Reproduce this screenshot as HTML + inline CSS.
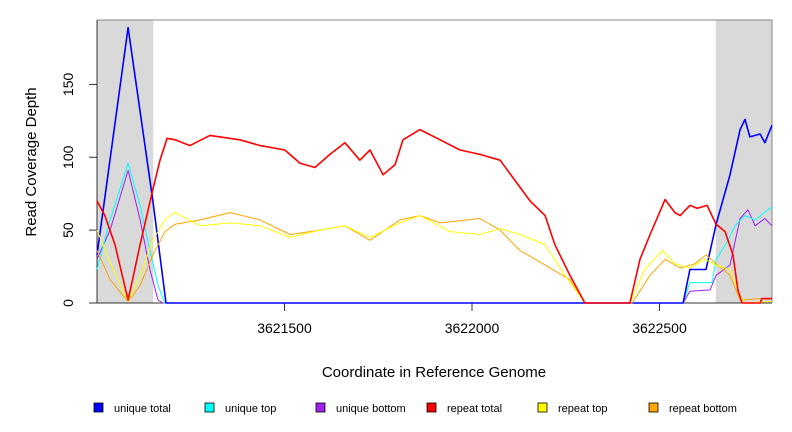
<!DOCTYPE html>
<html><head><meta charset="utf-8"><style>
body{margin:0;background:#fff;font-family:"Liberation Sans",sans-serif}
svg{display:block}
</style></head><body>
<svg id="chart" width="792" height="432" xmlns="http://www.w3.org/2000/svg" font-family="Liberation Sans, sans-serif"></svg>
<script>
// Data (genome coordinate, depth)
const xTicks=[3621500,3622000,3622500];
const yTicks=[0,50,100,150];
const shaded=[[3621000,3621150],[3622650,3622800]];
const uniqueTotalX=[3621000,3621083,3621149,3621184,3622563,3622581,3622624,3622651,3622688,3622715,3622728,3622741,3622768,3622781,3622800];
const uniqueTotalY=[33,189,70,0,0,23,23,54,88,119,126,114,116,110,122];
const uniqueTopX=[3621000,3621035,3621083,3621115,3621141,3621163,3621181,3622563,3622581,3622640,3622651,3622683,3622701,3622728,3622755,3622800];
const uniqueTopY=[23,57,96,67,36,12,0,0,14,14,30,43,53,60,57,66];
const uniqueBottomX=[3621000,3621035,3621083,3621115,3621141,3621163,3621176,3622563,3622581,3622635,3622651,3622688,3622715,3622736,3622755,3622781,3622800];
const uniqueBottomY=[30,50,91,57,23,2,0,0,8,9,19,26,58,64,53,58,53];
const repeatTotalX=[3621000,3621021,3621048,3621083,3621115,3621149,3621168,3621187,3621208,3621248,3621301,3621381,3621435,3621501,3621541,3621581,3621621,3621661,3621701,3621728,3621763,3621795,3621816,3621861,3621915,3621968,3622021,3622075,3622115,3622155,3622195,3622221,3622261,3622301,3622421,3622448,3622475,3622515,3622541,3622555,3622581,3622600,3622627,3622651,3622675,3622696,3622709,3622720,3622768,3622773,3622800];
const repeatTotalY=[70,60,40,2,40,78,98,113,112,108,115,112,108,105,96,93,102,110,98,105,88,95,112,119,112,105,102,98,84,70,60,40,19,0,0,30,47,71,62,60,67,65,67,54,49,33,9,0,0,3,3];
const repeatTopX=[3621000,3621035,3621083,3621115,3621149,3621181,3621208,3621275,3621355,3621435,3621515,3621595,3621661,3621728,3621808,3621861,3621941,3622021,3622075,3622128,3622195,3622248,3622301,3622421,3622461,3622507,3622541,3622581,3622621,3622651,3622688,3622715,3622728,3622800];
const repeatTopY=[50,28,1,19,43,57,62,53,55,53,45,50,53,45,55,60,49,47,51,47,40,19,0,0,23,36,27,24,30,26,23,5,0,1];
const repeatBottomX=[3621000,3621035,3621083,3621115,3621149,3621181,3621208,3621275,3621355,3621435,3621515,3621595,3621661,3621728,3621808,3621861,3621915,3622021,3622075,3622128,3622195,3622261,3622301,3622427,3622475,3622515,3622555,3622595,3622624,3622651,3622688,3622715,3622768,3622800];
const repeatBottomY=[36,16,1,12,33,49,54,57,62,57,47,50,53,43,57,60,55,58,50,36,26,16,0,0,19,30,24,27,33,27,19,2,3,3];
const series=[
 {name:'unique-total',label:'unique total',color:'#0000ff',w:1.6,x:uniqueTotalX,y:uniqueTotalY},
 {name:'unique-top',label:'unique top',color:'#00ffff',w:1,x:uniqueTopX,y:uniqueTopY},
 {name:'unique-bottom',label:'unique bottom',color:'#a020f0',w:1,x:uniqueBottomX,y:uniqueBottomY},
 {name:'repeat-total',label:'repeat total',color:'#ff0000',w:1.6,x:repeatTotalX,y:repeatTotalY},
 {name:'repeat-top',label:'repeat top',color:'#ffff00',w:1,x:repeatTopX,y:repeatTopY},
 {name:'repeat-bottom',label:'repeat bottom',color:'#ffa500',w:1,x:repeatBottomX,y:repeatBottomY}
];
const NS='http://www.w3.org/2000/svg';
const svg=document.getElementById('chart');
const L=97,R=772,T=20,B=303;
const X0=3621000,X1=3622800,Y0=0,Y1=194.2;
function sx(v){return L+(v-X0)/(X1-X0)*(R-L);}
function sy(v){return B-(v-Y0)/(Y1-Y0)*(B-T);}
function mk(tag,attrs,parent){const e=document.createElementNS(NS,tag);for(const k in attrs)e.setAttribute(k,attrs[k]);(parent||svg).appendChild(e);return e;}
shaded.forEach(s=>{
 const r=mk('rect',{x:sx(s[0]),y:T,width:sx(s[1])-sx(s[0]),height:B-T,fill:'#d9d9d9'});
 
 
});
const frame=mk('path',{d:`M${L} ${T}H${R}V${B}`,fill:'none',stroke:'#888',"stroke-width":1});


const xax=mk('path',{d:`M${L} ${B}H${R}`,stroke:'#333',fill:'none'});


const yax=mk('path',{d:`M${L} ${B}V${T}`,stroke:'#333',fill:'none'});


xTicks.forEach(t=>{
 const l=mk('line',{x1:sx(t),x2:sx(t),y1:B,y2:B+8,stroke:'#333'});
 
 
 const tx=mk('text',{x:sx(t),y:B+30,"text-anchor":"middle","font-size":14});
 tx.textContent=t;
 
 
});
yTicks.forEach(t=>{
 const l=mk('line',{x1:L-8,x2:L,y1:sy(t),y2:sy(t),stroke:'#333'});
 
 
 const tx=mk('text',{x:0,y:0,"text-anchor":"middle","font-size":14,transform:`translate(${L-24},${sy(t)}) rotate(-90)`});
 tx.textContent=t;
 
 
});
const xt=mk('text',{x:434,y:377,"text-anchor":"middle","font-size":15});
xt.textContent='Coordinate in Reference Genome';


const yt=mk('text',{x:0,y:0,"text-anchor":"middle","font-size":15,transform:'translate(36,162) rotate(-90)'});
yt.textContent='Read Coverage Depth';


const order=[2,1,0,5,4,3];
order.forEach(i=>{
 const s=series[i];
 const pts=s.x.map((v,j)=>sx(v).toFixed(1)+','+sy(s.y[j]).toFixed(1)).join(' ');
 const p=mk('polyline',{points:pts,fill:'none',stroke:s.color,"stroke-width":s.w,"stroke-linejoin":"round"});
 
 
});
const lx=[94,205,316,427,538,649];
series.forEach((s,i)=>{
 const g=mk('g',{});
 
 
 mk('rect',{x:lx[i],y:403,width:9,height:9,fill:s.color,stroke:'#000',"stroke-width":0.8},g);
 const t=mk('text',{x:lx[i]+20,y:412,"font-size":11},g);
 t.textContent=s.label;
});
</script>
</body></html>
